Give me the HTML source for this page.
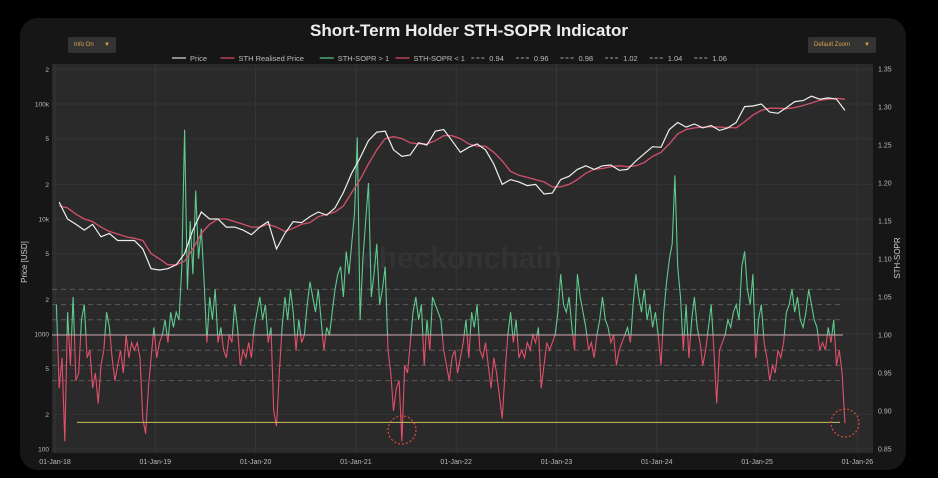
<!DOCTYPE html>
<html><head><meta charset="utf-8"><style>
html,body{margin:0;padding:0;background:#000;width:938px;height:478px;overflow:hidden;font-family:"Liberation Sans",sans-serif}
.panel{position:absolute;left:20px;top:18px;width:886px;height:452px;background:#161616;border-radius:18px}
.btn{position:absolute;background:#333;color:#d9a54a;font-size:6px;padding:5px 6px;border-radius:2px}
</style></head><body>
<div class="panel"></div>
<div class="btn" style="left:68px;top:37px;width:36px">Info On <span style="float:right">▼</span></div>
<div class="btn" style="left:808px;top:37px;width:56px">Default Zoom <span style="float:right">▼</span></div>
<svg id="c" width="938" height="478" style="position:absolute;left:0;top:0"></svg>
<script>
const priceMonthly=[14000,10000,9000,8000,9000,7000,7500,6500,6500,6500,5500,3700,
3600,3700,4000,5000,8000,11500,10000,10000,8500,8500,8000,7300,
8500,9500,5500,7500,9500,9300,10500,11500,10800,12500,17000,25000,
34000,48000,57000,58000,40000,35000,36000,46000,44000,58000,60000,48000,
38000,42000,45000,40000,30000,20000,22000,21000,19500,20000,16500,16800,
22000,23500,27000,29000,27000,29000,29500,26500,27000,32000,37000,42500,
42000,60000,69000,63000,67000,62000,65000,59000,62000,69000,95000,96000,
100000,85000,83000,93000,105000,107000,117000,110000,113000,110000,88000];
const sthRealisedMonthly=[13000,12500,11000,10000,9500,8500,7800,7400,7000,6800,6500,5000,
4500,4000,4000,4300,5500,7500,9000,10000,10000,9500,9000,8500,
8500,9000,8500,7800,8300,9000,9300,10500,11000,11500,13000,17000,
22000,30000,40000,50000,52000,50000,46000,45000,45000,48000,53000,53000,
50000,45000,43000,43000,38000,32000,26000,24000,23000,22000,21000,19000,
19000,20000,22000,25000,27000,27500,28500,29000,28500,29000,31000,35000,
38000,45000,55000,60000,62000,63000,63500,63000,62500,62000,70000,80000,
88000,92000,92000,91000,93000,97000,102000,108000,110000,112000,110000];
const soprThirdMonthly=[1.04,0.93,0.97,0.86,1.03,0.96,1.05,0.94,0.95,1.02,1.04,0.97,0.98,0.93,0.95,0.91,0.96,0.98,1.03,1.01,0.97,0.94,0.96,0.98,0.95,1.00,0.97,0.99,0.98,0.99,0.97,0.89,0.87,0.93,0.97,1.01,
0.97,0.99,1.00,1.02,0.99,1.03,1.01,1.03,1.02,1.09,1.27,1.06,1.15,1.08,1.19,1.10,1.14,1.07,0.99,1.05,1.02,1.06,0.99,1.01,0.98,0.97,1.00,0.99,1.04,1.01,0.96,0.98,0.97,0.99,0.97,1.01,
1.03,1.05,1.02,1.04,0.99,1.01,0.90,0.88,0.95,1.01,1.05,1.02,1.06,1.03,0.98,1.02,0.99,1.00,1.04,1.07,1.05,1.03,1.06,1.02,0.98,1.01,1.00,1.03,1.06,1.08,1.09,1.05,1.11,1.08,1.12,1.16,
1.26,1.02,1.10,1.15,1.20,1.05,1.08,1.12,1.04,1.06,1.09,0.98,0.95,0.90,0.93,0.94,0.86,0.96,0.95,0.99,1.03,1.05,1.02,1.04,0.96,1.02,0.98,1.05,1.04,1.03,1.02,0.98,0.96,0.94,0.97,0.98,
0.95,0.97,0.99,1.02,0.97,1.03,1.01,1.04,0.98,0.97,0.99,0.96,0.93,0.97,0.95,0.92,0.89,0.95,1.00,1.03,0.99,1.02,0.97,0.98,0.97,0.99,0.98,1.00,0.99,1.01,0.93,0.96,0.99,0.98,0.99,1.00,
1.03,1.08,1.04,1.03,1.05,1.01,0.98,1.08,1.05,1.03,1.01,0.98,0.99,0.97,1.00,1.02,1.05,1.02,1.01,0.99,1.00,0.96,0.98,0.99,1.00,1.01,0.99,1.04,1.08,1.05,1.03,1.06,1.02,1.04,1.01,1.03,
1.00,0.96,1.03,1.07,1.10,1.12,1.21,1.09,1.05,0.98,1.04,0.97,1.02,1.05,1.01,0.99,0.96,0.98,1.01,1.04,0.98,0.91,0.98,0.99,1.00,1.02,1.01,1.03,1.04,1.02,1.09,1.11,1.06,1.04,1.08,0.97,
1.02,1.04,0.99,0.97,0.94,0.96,0.95,0.98,0.97,0.99,1.03,1.04,1.06,1.03,1.05,1.02,1.01,1.03,1.06,1.04,1.02,1.01,0.98,0.99,0.98,1.01,0.99,1.02,0.96,0.98,0.95,0.884];
const leftTicks=[["2",200000],["100k",100000],["5",50000],["2",20000],["10k",10000],["5",5000],["2",2000],["1000",1000],["5",500],["2",200],["100",100]];
const rightTicks=[1.35,1.30,1.25,1.20,1.15,1.10,1.05,1.00,0.95,0.90,0.85];
const xTickLabels=["01-Jan-18","01-Jan-19","01-Jan-20","01-Jan-21","01-Jan-22","01-Jan-23","01-Jan-24","01-Jan-25","01-Jan-26"];
const dashedLevels=[0.94,0.96,0.98,1.02,1.04,1.06];
const legendItems=[["Price","#ddd",""],["STH Realised Price","#e0506a",""],["STH-SOPR > 1","#5fc98f",""],["STH-SOPR < 1","#e0506a",""],["0.94","#888","3,2"],["0.96","#888","3,2"],["0.98","#888","3,2"],["1.02","#888","3,2"],["1.04","#888","3,2"],["1.06","#888","3,2"]];
const PL=52,PR=873,PT=64,PB=453;
const xM=m=>55+m/12*100.3;
const yP=p=>104+(5-Math.log10(p))*115;
const yS=v=>335-(v-1)*760;
const svg=document.getElementById('c');const NS='http://www.w3.org/2000/svg';
function mk(t,a,p){const e=document.createElementNS(NS,t);for(const k in a)e.setAttribute(k,a[k]);(p||svg).appendChild(e);return e;}
let e;
e=mk('rect',{x:PL,y:PT,width:PR-PL,height:PB-PT,fill:'#2a2a2a'});


e=mk('text',{x:469,y:36,fill:'#eee','font-size':17,'font-weight':'bold','text-anchor':'middle'});e.textContent='Short-Term Holder STH-SOPR Indicator';


xTickLabels.forEach((l,i)=>{const x=xM(i*12);
e=mk('line',{x1:x,x2:x,y1:PT,y2:PB,stroke:'#363636','stroke-width':1});


e=mk('text',{x:x,y:464,fill:'#bbb','font-size':7,'text-anchor':'middle'});e.textContent=l;

});
leftTicks.forEach(t=>{const y=yP(t[1]);
e=mk('line',{x1:PL,x2:PR,y1:y,y2:y,stroke:'#343434','stroke-width':1});


e=mk('text',{x:49,y:y+2.5,fill:'#bbb','font-size':6.5,'text-anchor':'end'});e.textContent=t[0];

});
rightTicks.forEach(v=>{e=mk('text',{x:878,y:yS(v)+2.5,fill:'#bbb','font-size':7});e.textContent=v.toFixed(2);

});
e=mk('text',{x:0,y:0,fill:'#ccc','font-size':8,transform:'translate(27,262) rotate(-90)','text-anchor':'middle'});e.textContent='Price [USD]';


e=mk('text',{x:0,y:0,fill:'#ccc','font-size':8,transform:'translate(900,258) rotate(-90)','text-anchor':'middle'});e.textContent='STH-SOPR';


e=mk('text',{x:462,y:268,fill:'#333','font-size':30,'font-weight':'bold','text-anchor':'middle'});e.textContent='checkonchain';


let lx=172;
legendItems.forEach(it=>{
e=mk('line',{x1:lx,x2:lx+14,y1:58,y2:58,stroke:it[1],'stroke-width':1.2,'stroke-dasharray':it[2]});


e=mk('text',{x:lx+18,y:61,fill:'#bbb','font-size':7.5});e.textContent=it[0];


lx+=18+it[0].length*3.9+11;});
dashedLevels.forEach(v=>{e=mk('line',{x1:PL,x2:PR-30,y1:yS(v),y2:yS(v),stroke:'#5a5a5a','stroke-width':1,'stroke-dasharray':'5,4'});

});
const defs=mk('defs',{});
const c1=mk('clipPath',{id:'above'},defs);mk('rect',{x:PL,y:PT,width:PR-PL,height:yS(1)-PT},c1);
const c2=mk('clipPath',{id:'below'},defs);mk('rect',{x:PL,y:yS(1),width:PR-PL,height:PB-yS(1)},c2);
const soprPts=soprThirdMonthly.map((v,i)=>xM(i/3+0.17).toFixed(1)+','+yS(v).toFixed(1)).join(' ');
e=mk('polyline',{points:soprPts,fill:'none',stroke:'#5fc98f','stroke-width':1.1,'clip-path':'url(#above)'});


e=mk('polyline',{points:soprPts,fill:'none',stroke:'#e0506a','stroke-width':1.1,'clip-path':'url(#below)'});


e=mk('line',{x1:PL,x2:PR-30,y1:yS(1),y2:yS(1),stroke:'#c9a6b0','stroke-width':1});


e=mk('line',{x1:77,x2:840,y1:yS(0.885),y2:yS(0.885),stroke:'#c8c060','stroke-width':1});


[[402,430],[845,423]].forEach(c=>{e=mk('circle',{cx:c[0],cy:c[1],r:14,fill:'none',stroke:'#e04a3a','stroke-width':1.2,'stroke-dasharray':'2,2'});

});
e=mk('polyline',{points:sthRealisedMonthly.map((v,i)=>xM(i+0.5).toFixed(1)+','+yP(v).toFixed(1)).join(' '),fill:'none',stroke:'#d4506a','stroke-width':1.3});


e=mk('polyline',{points:priceMonthly.map((v,i)=>xM(i+0.5).toFixed(1)+','+yP(v).toFixed(1)).join(' '),fill:'none',stroke:'#eee','stroke-width':1.2});


</script>
</body></html>
